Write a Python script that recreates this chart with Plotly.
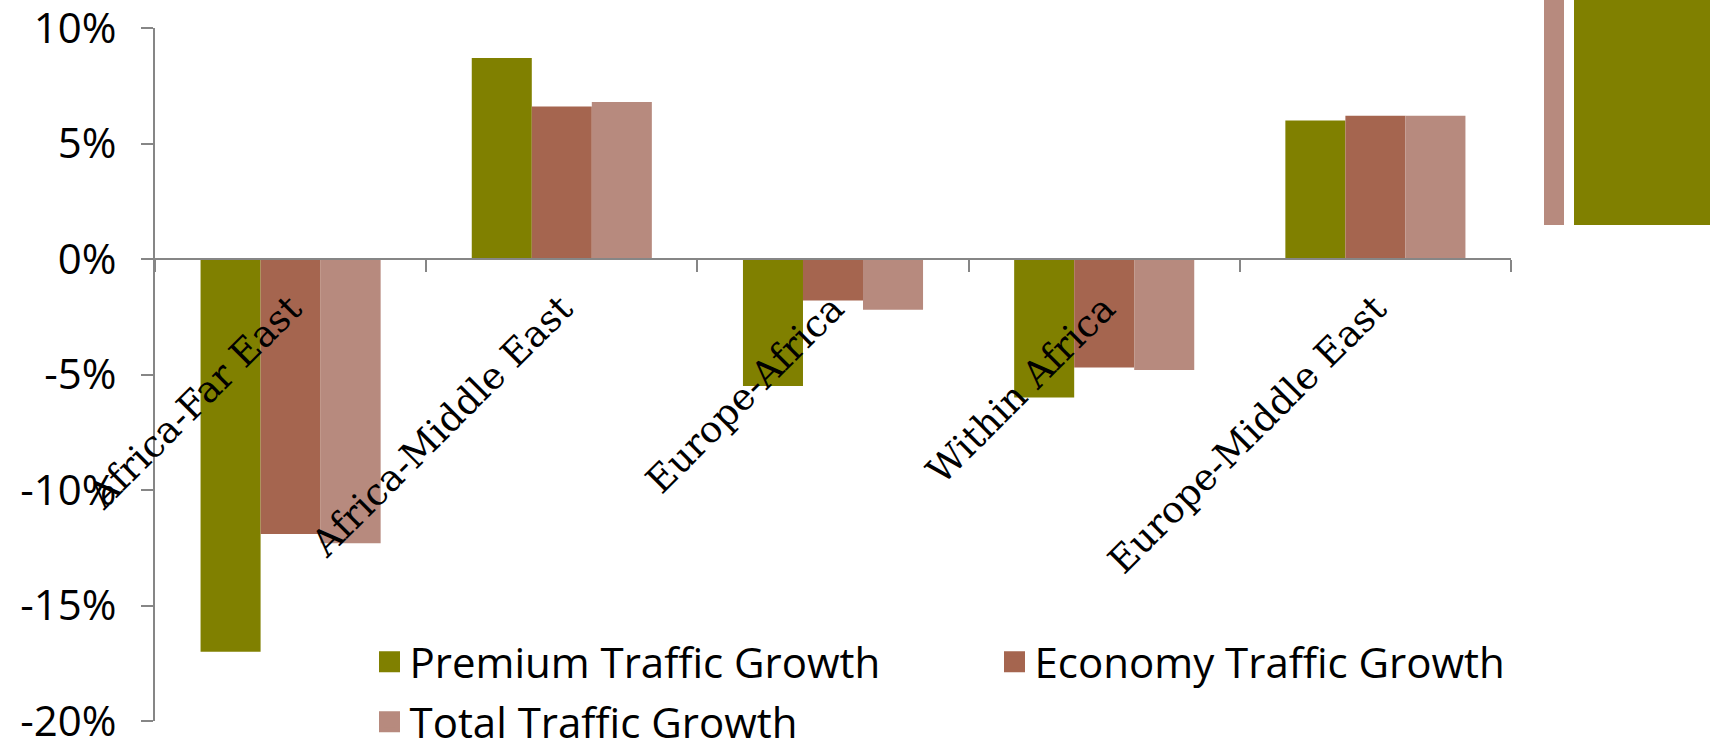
import plotly.graph_objects as go

categories = ["Africa-Far East", "Africa-Middle East", "Europe-Africa", "Within Africa", "Europe-Middle East"]
premium = [-17.0, 8.7, -5.5, -6.0, 6.0]
economy = [-11.9, 6.6, -1.8, -4.7, 6.2]
total = [-12.3, 6.8, -2.2, -4.8, 6.2]

series_names = ["Premium Traffic Growth", "Economy Traffic Growth", "Total Traffic Growth"]
series_colors = ["#808000", "#A5654F", "#B78A7E"]
legend_slots = ["legend", "legend", "legend2"]

y_tickvals = [-20, -15, -10, -5, 0, 5, 10]
y_ticktext = ["-20%", "-15%", "-10%", "-5%", "0%", "5%", "10%"]

W, H = 1716, 743
PL, PT, PW, PH = 155, 28, 1356, 693          # plot area in page pixels
ML, MT = PL, PT
MR, MB = W - ML - PW, H - MT - PH

def px_x(p):
    return (p - PL) / PW

def px_y(p):
    return (PT + PH - p) / PH

fig = go.Figure()
for name, vals, col in zip(series_names, [premium, economy, total], series_colors):
    fig.add_trace(go.Bar(x=categories, y=vals, name=name, marker=dict(color=col, line=dict(width=0)),
                         showlegend=False))
# legend entries with larger square swatches
for name, col, lg in zip(series_names, series_colors, legend_slots):
    fig.add_trace(go.Scatter(x=[None], y=[None], mode="markers", name=name, legend=lg,
                             marker=dict(symbol="square", size=16, color=col,
                                         line=dict(width=5, color=col))))

axis_col = "#868686"
leg_common = dict(
    orientation="h", xanchor="left", yanchor="middle",
    font=dict(family="Open Sans", size=42, color="black"),
    entrywidth=580, entrywidthmode="pixels",
    bgcolor="rgba(0,0,0,0)", borderwidth=0,
    itemclick=False, itemdoubleclick=False,
)
fig.update_layout(
    template="none",
    width=W, height=H,
    margin=dict(l=ML, r=MR, t=MT, b=MB, pad=0, autoexpand=False),
    paper_bgcolor="white", plot_bgcolor="white",
    barmode="group", bargap=0.336, bargroupgap=0,
    font=dict(family="Open Sans", color="black"),
    xaxis=dict(
        anchor="free", position=20/30, automargin=False,
        showline=True, linecolor=axis_col, linewidth=2,
        ticks="outside", tickson="boundaries", ticklen=12, tickwidth=2, tickcolor=axis_col,
        showgrid=False, zeroline=False,
        tickangle=-45, ticklabelstandoff=12, ticklabeloverflow="allow",
        tickfont=dict(family="DejaVu Serif", size=37, color="black"),
    ),
    yaxis=dict(
        range=[-20, 10], tickvals=y_tickvals, ticktext=y_ticktext, automargin=False,
        showline=True, linecolor=axis_col, linewidth=2,
        ticks="outside", ticklen=12, tickwidth=2, tickcolor=axis_col,
        showgrid=False, zeroline=False,
        ticklabelstandoff=16, ticklabeloverflow="allow",
        tickfont=dict(family="Open Sans", size=42, color="black"),
    ),
    legend=dict(x=px_x(369.5), y=px_y(662), **leg_common),
    legend2=dict(x=px_x(369.5), y=px_y(722), **leg_common),
    shapes=[
        dict(type="rect", xref="paper", yref="paper",
             x0=px_x(1544), x1=px_x(1564), y0=px_y(225), y1=px_y(-2),
             fillcolor="#B78A7E", line=dict(width=0), layer="above"),
        dict(type="rect", xref="paper", yref="paper",
             x0=px_x(1574), x1=px_x(1710), y0=px_y(225), y1=px_y(-2),
             fillcolor="#808000", line=dict(width=0), layer="above"),
    ],
)

fig.write_html("out.html", config={"displayModeBar": False},
               post_script="document.body.style.margin = '0px';")
